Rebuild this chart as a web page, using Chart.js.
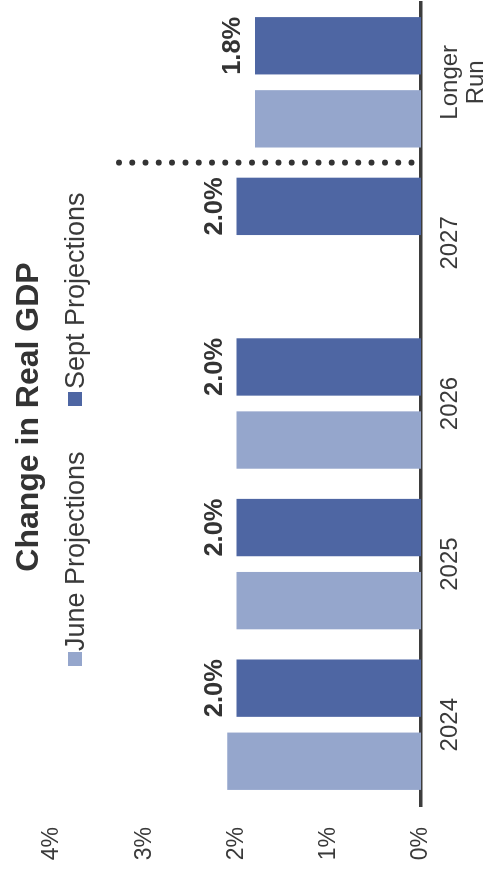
<!DOCTYPE html>
<html>
<head>
<meta charset="utf-8">
<script src="https://cdn.jsdelivr.net/npm/chart.js@4/dist/chart.umd.min.js"></script>
<style>
  html, body { margin: 0; padding: 0; background: #fff; overflow: hidden; }
  body { width: 487px; height: 872px; position: relative; }
  /* the chart is laid out landscape and turned a quarter turn to fit the tall page */
  #turn {
    position: absolute; left: 0; top: 0;
    width: 872px; height: 487px;
    transform-origin: 0 0;
    transform: translateY(872px) rotate(-90deg);
  }
</style>
</head>
<body>
<div id="turn"><canvas id="gdp" width="872" height="487"></canvas></div>
<script>
// Real GDP growth, median projections (percent)
const categories = ['2024', '2025', '2026', '2027', ['Longer', 'Run']];
const juneProjections = [2.1, 2.0, 2.0, null, 1.8];
const septProjections = [2.0, 2.0, 2.0, 2.0, 1.8];
const valueTicks = [0, 1, 2, 3, 4];

const FONT = "'Liberation Sans', Arial, Helvetica, sans-serif";
const LIGHT = '#95A6CC';
const DARK = '#4E66A3';
const TEXT = '#3a3a3a';

// title, legend, value labels and the dotted divider before the longer-run bars
const decorations = {
  id: 'decorations',
  afterDatasetsDraw(chart) {
    const ctx = chart.ctx;
    const xs = chart.scales.x, ys = chart.scales.y;
    ctx.save();

    // dotted divider between 2027 and Longer Run
    const dx = xs.getPixelForValue(3.5);
    ctx.strokeStyle = '#333';
    ctx.lineWidth = 6;
    ctx.lineCap = 'round';
    ctx.setLineDash([0, 13.3]);
    ctx.beginPath();
    ctx.moveTo(dx, ys.getPixelForValue(3.275));
    ctx.lineTo(dx, ys.getPixelForValue(0.09));
    ctx.stroke();
    ctx.setLineDash([]);

    // value labels on the September bars
    ctx.fillStyle = '#333';
    ctx.font = 'bold 25.5px ' + FONT;
    ctx.textAlign = 'center';
    ctx.textBaseline = 'alphabetic';
    const meta = chart.getDatasetMeta(1);
    meta.data.forEach((bar, i) => {
      const v = septProjections[i];
      if (v == null) return;
      ctx.fillText(v.toFixed(1) + '%', bar.x, bar.y - 15);
    });

    // title
    ctx.font = 'bold 32px ' + FONT;
    ctx.fillStyle = '#333';
    ctx.fillText('Change in Real GDP', 455, 37.5);

    // legend
    ctx.font = '27px ' + FONT;
    ctx.textAlign = 'left';
    ctx.fillStyle = LIGHT;
    ctx.fillRect(206, 68, 14, 14);
    ctx.fillStyle = TEXT;
    ctx.fillText(chart.data.datasets[0].label, 221, 84);
    ctx.fillStyle = DARK;
    ctx.fillRect(466, 68, 14, 14);
    ctx.fillStyle = TEXT;
    ctx.fillText(chart.data.datasets[1].label, 483, 84);

    ctx.restore();
  }
};

new Chart(document.getElementById('gdp'), {
  type: 'bar',
  data: {
    labels: categories,
    datasets: [
      { label: 'June Projections', data: juneProjections, backgroundColor: LIGHT,
        categoryPercentage: 0.91, barPercentage: 0.785 },
      { label: 'Sept Projections', data: septProjections, backgroundColor: DARK,
        categoryPercentage: 0.91, barPercentage: 0.785 }
    ]
  },
  options: {
    responsive: false,
    animation: false,
    devicePixelRatio: 1,
    layout: { padding: { top: 52, right: 2, left: 0, bottom: 0 } },
    plugins: {
      legend: { display: false },
      title: { display: false },
      tooltip: { enabled: false }
    },
    scales: {
      x: {
        grid: { display: false, drawTicks: false },
        border: { display: true, color: '#3d3d3d', width: 3.5 },
        ticks: {
          color: TEXT,
          font: { family: FONT, size: 24, lineHeight: 1.1 },
          padding: 16,
          maxRotation: 0,
          autoSkip: false
        },
        afterFit(scale) { scale.height = 66; }
      },
      y: {
        min: valueTicks[0],
        max: valueTicks[valueTicks.length - 1],
        afterBuildTicks(scale) { scale.ticks = valueTicks.map(v => ({ value: v })); },
        grid: { display: false, drawTicks: false },
        border: { display: false },
        ticks: {
          color: TEXT,
          font: { family: FONT, size: 23 },
          padding: 22,
          callback: v => v + '%'
        },
        afterFit(scale) { scale.width = 67; }
      }
    }
  },
  plugins: [decorations]
});
</script>
</body>
</html>
